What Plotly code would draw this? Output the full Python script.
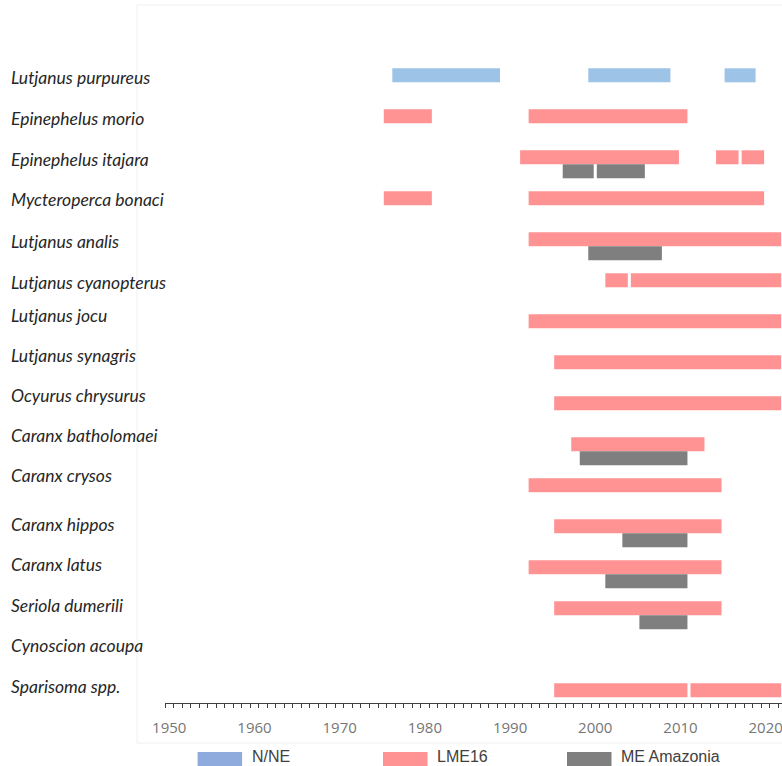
import plotly.graph_objects as go

# Species, top to bottom
SPECIES = [
    "Lutjanus purpureus", "Epinephelus morio", "Epinephelus itajara",
    "Mycteroperca bonaci", "Lutjanus analis", "Lutjanus cyanopterus",
    "Lutjanus jocu", "Lutjanus synagris", "Ocyurus chrysurus",
    "Caranx batholomaei", "Caranx crysos", "Caranx hippos", "Caranx latus",
    "Seriola dumerili", "Cynoscion acoupa", "Sparisoma spp.",
]

# N/NE periods (first year, last year)
NNE_SPECIES = ["Lutjanus purpureus"] * 3
NNE_START = [1976, 1999, 2015]
NNE_END = [1989, 2009, 2019]

# LME16 periods
LME_SPECIES = [
    "Epinephelus morio", "Epinephelus morio",
    "Epinephelus itajara", "Epinephelus itajara", "Epinephelus itajara",
    "Mycteroperca bonaci", "Mycteroperca bonaci",
    "Lutjanus analis",
    "Lutjanus cyanopterus", "Lutjanus cyanopterus",
    "Lutjanus jocu", "Lutjanus synagris", "Ocyurus chrysurus",
    "Caranx batholomaei", "Caranx crysos", "Caranx hippos", "Caranx latus",
    "Seriola dumerili",
    "Sparisoma spp.", "Sparisoma spp.",
]
LME_START = [1975, 1992, 1991, 2014, 2017, 1975, 1992, 1992, 2001, 2004,
             1992, 1995, 1995, 1997, 1992, 1995, 1992, 1995, 1995, 2011]
LME_END = [1981, 2011, 2010, 2017, 2020, 1981, 2020, 2022, 2004, 2022,
           2022, 2022, 2022, 2013, 2015, 2015, 2015, 2015, 2011, 2022]

# ME Amazonia periods
AMZ_SPECIES = [
    "Epinephelus itajara", "Epinephelus itajara", "Lutjanus analis",
    "Caranx batholomaei", "Caranx hippos", "Caranx latus", "Seriola dumerili",
]
AMZ_START = [1996, 2000, 1999, 1998, 2003, 2001, 2005]
AMZ_END = [2000, 2006, 2008, 2011, 2011, 2011, 2011]

DECADES = [1950, 1960, 1970, 1980, 1990, 2000, 2010, 2020]

# ---- styling ----
W, H = 782, 766
ML, MR, MT, MB = 165, 0, 5, 63
PW, PH = W - ML - MR, H - MT - MB
PX_PER_YEAR = 8.52
ROW_PX = 41.0
BAR_PX = 14.0
ROW0_CENTER = 82.3          # pixel centre of the first row
GAP = 0.18                   # small gap trimmed from each end of a bar (years)

BLUE_BAR = "#9dc3e6"
BLUE_KEY = "#8faadc"
PINK = "#ff9393"
GREY = "#7f7f7f"

bw = BAR_PX / ROW_PX
x0 = 1949.5
x1 = x0 + PW / PX_PER_YEAR
y_top = -(ROW0_CENTER - MT) / ROW_PX
y_bot = (MT + PH - ROW0_CENTER) / ROW_PX


def px_x(px):
    return (px - ML) / PW


def px_y(py):
    return (MT + PH - py) / PH


def bar_trace(names, starts, ends, color, offset, label):
    return go.Bar(
        orientation="h",
        y=names,
        base=[s + GAP for s in starts],
        x=[e - s - 2 * GAP for s, e in zip(starts, ends)],
        width=bw,
        offset=offset,
        marker=dict(color=color, line=dict(width=0)),
        name=label,
        showlegend=False,
        hoverinfo="skip",
    )


fig = go.Figure()
fig.add_trace(bar_trace(NNE_SPECIES, NNE_START, NNE_END, BLUE_BAR, -bw, "N/NE"))
fig.add_trace(bar_trace(LME_SPECIES, LME_START, LME_END, PINK, -bw, "LME16"))
fig.add_trace(bar_trace(AMZ_SPECIES, AMZ_START, AMZ_END, GREY, 0, "ME Amazonia"))

fig.update_layout(
    width=W, height=H,
    margin=dict(l=ML, r=MR, t=MT, b=MB, pad=0),
    paper_bgcolor="white", plot_bgcolor="white",
    barmode="overlay",
    showlegend=False,
    xaxis=dict(
        range=[x0, x1],
        tickvals=DECADES,
        ticktext=[str(d) for d in DECADES],
        ticks="outside", ticklen=0,
        ticklabelstandoff=11,
        ticklabeloverflow="allow",
        tickfont=dict(family="Open Sans", size=15, color="#767676"),
        showline=True, linecolor="#404040", linewidth=1,
        showgrid=False, zeroline=False,
        minor=dict(tick0=1949.5, dtick=1, ticks="outside", ticklen=4,
                   tickcolor="#404040", tickwidth=1, showgrid=False),
    ),
    yaxis=dict(
        type="category",
        categoryorder="array", categoryarray=SPECIES,
        range=[y_bot, y_top],
        showticklabels=False, showgrid=False, zeroline=False, showline=False,
        ticks="",
    ),
)

# species labels on the left (vertical nudges in px)
LABEL_SHIFT = [4.5, 4.5, 4.5, 6.3, 4.5, 5, 12.6, 13.6, 14.6, 15.6, 16.6,
               9.3, 10.3, 9.6, 10.6, 11.1]
for sp, dy in zip(SPECIES, LABEL_SHIFT):
    fig.add_annotation(
        x=px_x(9), xref="paper", y=sp, yref="y", yshift=dy,
        text=sp, showarrow=False, xanchor="left", yanchor="middle",
        font=dict(family="Lato", size=17.5, style="italic", color="#262626"),
    )

# faint outer frame of the chart area
fig.add_shape(type="rect", xref="paper", yref="paper",
              x0=px_x(137), x1=px_x(790), y0=px_y(743), y1=px_y(5),
              line=dict(color="#f0f0f0", width=1), layer="below")

# legend drawn below the axis
LEGEND = [("N/NE", BLUE_KEY, 197.6), ("LME16", PINK, 383), ("ME Amazonia", GREY, 567)]
for text, color, lx in LEGEND:
    fig.add_shape(type="rect", xref="paper", yref="paper",
                  x0=px_x(lx), x1=px_x(lx + 44.5), y0=px_y(770), y1=px_y(752),
                  fillcolor=color, line=dict(width=0))
    fig.add_annotation(x=px_x(lx + 52), xref="paper", y=px_y(756), yref="paper",
                       text=text, showarrow=False, xanchor="left", yanchor="middle",
                       font=dict(family="Liberation Sans", size=16, color="#404040"))

fig.write_html("out.html")
